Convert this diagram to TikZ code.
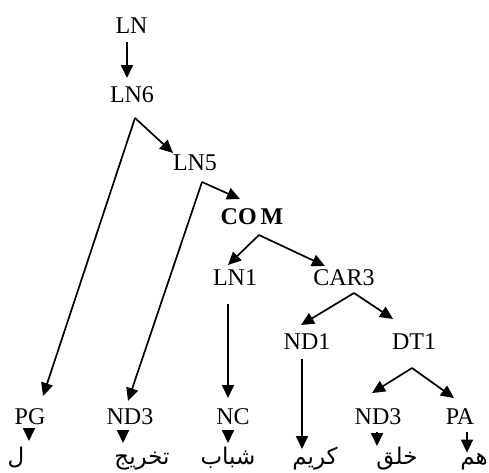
\documentclass[tikz,border=0pt]{standalone}
\usepackage{fontspec}
\setmainfont{Liberation Serif}
\newfontfamily\arabicfont[Script=Arabic]{DejaVu Sans}
\TeXXeTstate=1
\usetikzlibrary{arrows.meta}

\tikzset{
  lbl/.style={inner sep=0pt, anchor=base, font=\fontsize{24}{24}\selectfont},
  word/.style={inner sep=0pt, anchor=base, font=\arabicfont\fontsize{23}{23}\selectfont},
  arr/.style={line width=1.7pt, -{Triangle[length=13pt,width=12pt]}},
}

\begin{document}
\begin{tikzpicture}[x=1pt, y=-1pt]
\useasboundingbox (0,0) rectangle (489,472);

% category labels
\node[lbl] (ln)   at (131.5,33) {LN};
\node[lbl] (ln6)  at (132,102)  {LN6};
\node[lbl] (ln5)  at (195,170)  {LN5};
\node[lbl, font=\fontsize{24}{24}\selectfont\bfseries] (com) at (252,224) {CO\,M};
\node[lbl] (ln1)  at (235,285)  {LN1};
\node[lbl] (car3) at (344,285)  {CAR3};
\node[lbl] (nd1)  at (307,349)  {ND1};
\node[lbl] (dt1)  at (414,349)  {DT1};
\node[lbl] (pg)   at (30,424)   {PG};
\node[lbl] (nd3a) at (130,424)  {ND3};
\node[lbl] (nc)   at (233,424)  {NC};
\node[lbl] (nd3b) at (378,424)  {ND3};
\node[lbl] (pa)   at (460,424)  {PA};

% words
\node[word] (lam)    at (16,464)  {\beginR ل\endR};
\node[word] (takh)   at (142,464) {\beginR تخريج\endR};
\node[word] (shabab) at (228,464) {\beginR شباب\endR};
\node[word] (karim)  at (315,464) {\beginR كريم\endR};
\node[word] (khalq)  at (397,464) {\beginR خلق\endR};
\node[word, anchor=base east] (hum) at (488,464) {\beginR هم\endR};

% tree branches
\draw[arr] ([shift={(-4.5,9)}]ln.base)  -- ([shift={(-5,-24)}]ln6.base);
\draw[arr] ([shift={(3,16)}]ln6.base)   -- ([shift={(13,-28)}]pg.base);
\draw[arr] ([shift={(3,16)}]ln6.base)   -- ([shift={(-22,-17)}]ln5.base);
\draw[arr] ([shift={(7,12)}]ln5.base)   -- ([shift={(-2,-23)}]nd3a.base);
\draw[arr] ([shift={(7,12)}]ln5.base)   -- ([shift={(-12,-25)}]com.base);
\draw[arr] ([shift={(7,11)}]com.base)   -- ([shift={(-7,-20)}]ln1.base);
\draw[arr] ([shift={(7,11)}]com.base)   -- ([shift={(-19,-19)}]car3.base);
\draw[arr] ([shift={(-7,19)}]ln1.base)  -- ([shift={(-5,-26)}]nc.base);
\draw[arr] ([shift={(10,8)}]car3.base)  -- ([shift={(-6,-24)}]nd1.base);
\draw[arr] ([shift={(10,8)}]car3.base)  -- ([shift={(-21,-30)}]dt1.base);
\draw[arr] ([shift={(-5,10)}]nd1.base)  -- ([shift={(-13,-15)}]karim.base);
\draw[arr] ([shift={(-2,19)}]dt1.base)  -- ([shift={(-6,-31)}]nd3b.base);
\draw[arr] ([shift={(-2,19)}]dt1.base)  -- ([shift={(-6,-26)}]pa.base);

% label to word
\draw[arr] ([shift={(-1,7)}]pg.base)    -- ([shift={(13,-23)}]lam.base);
\draw[arr] ([shift={(-7,7)}]nd3a.base)  -- ([shift={(-19,-21)}]takh.base);
\draw[arr] ([shift={(-5,7)}]nc.base)    -- ([shift={(0,-21)}]shabab.base);
\draw[arr] ([shift={(-1,8)}]nd3b.base)  -- ([shift={(-20,-18)}]khalq.base);
\draw[arr] ([shift={(7,8)}]pa.base)     -- ([xshift=7pt]pa.base |- hum.north);
\end{tikzpicture}
\end{document}
